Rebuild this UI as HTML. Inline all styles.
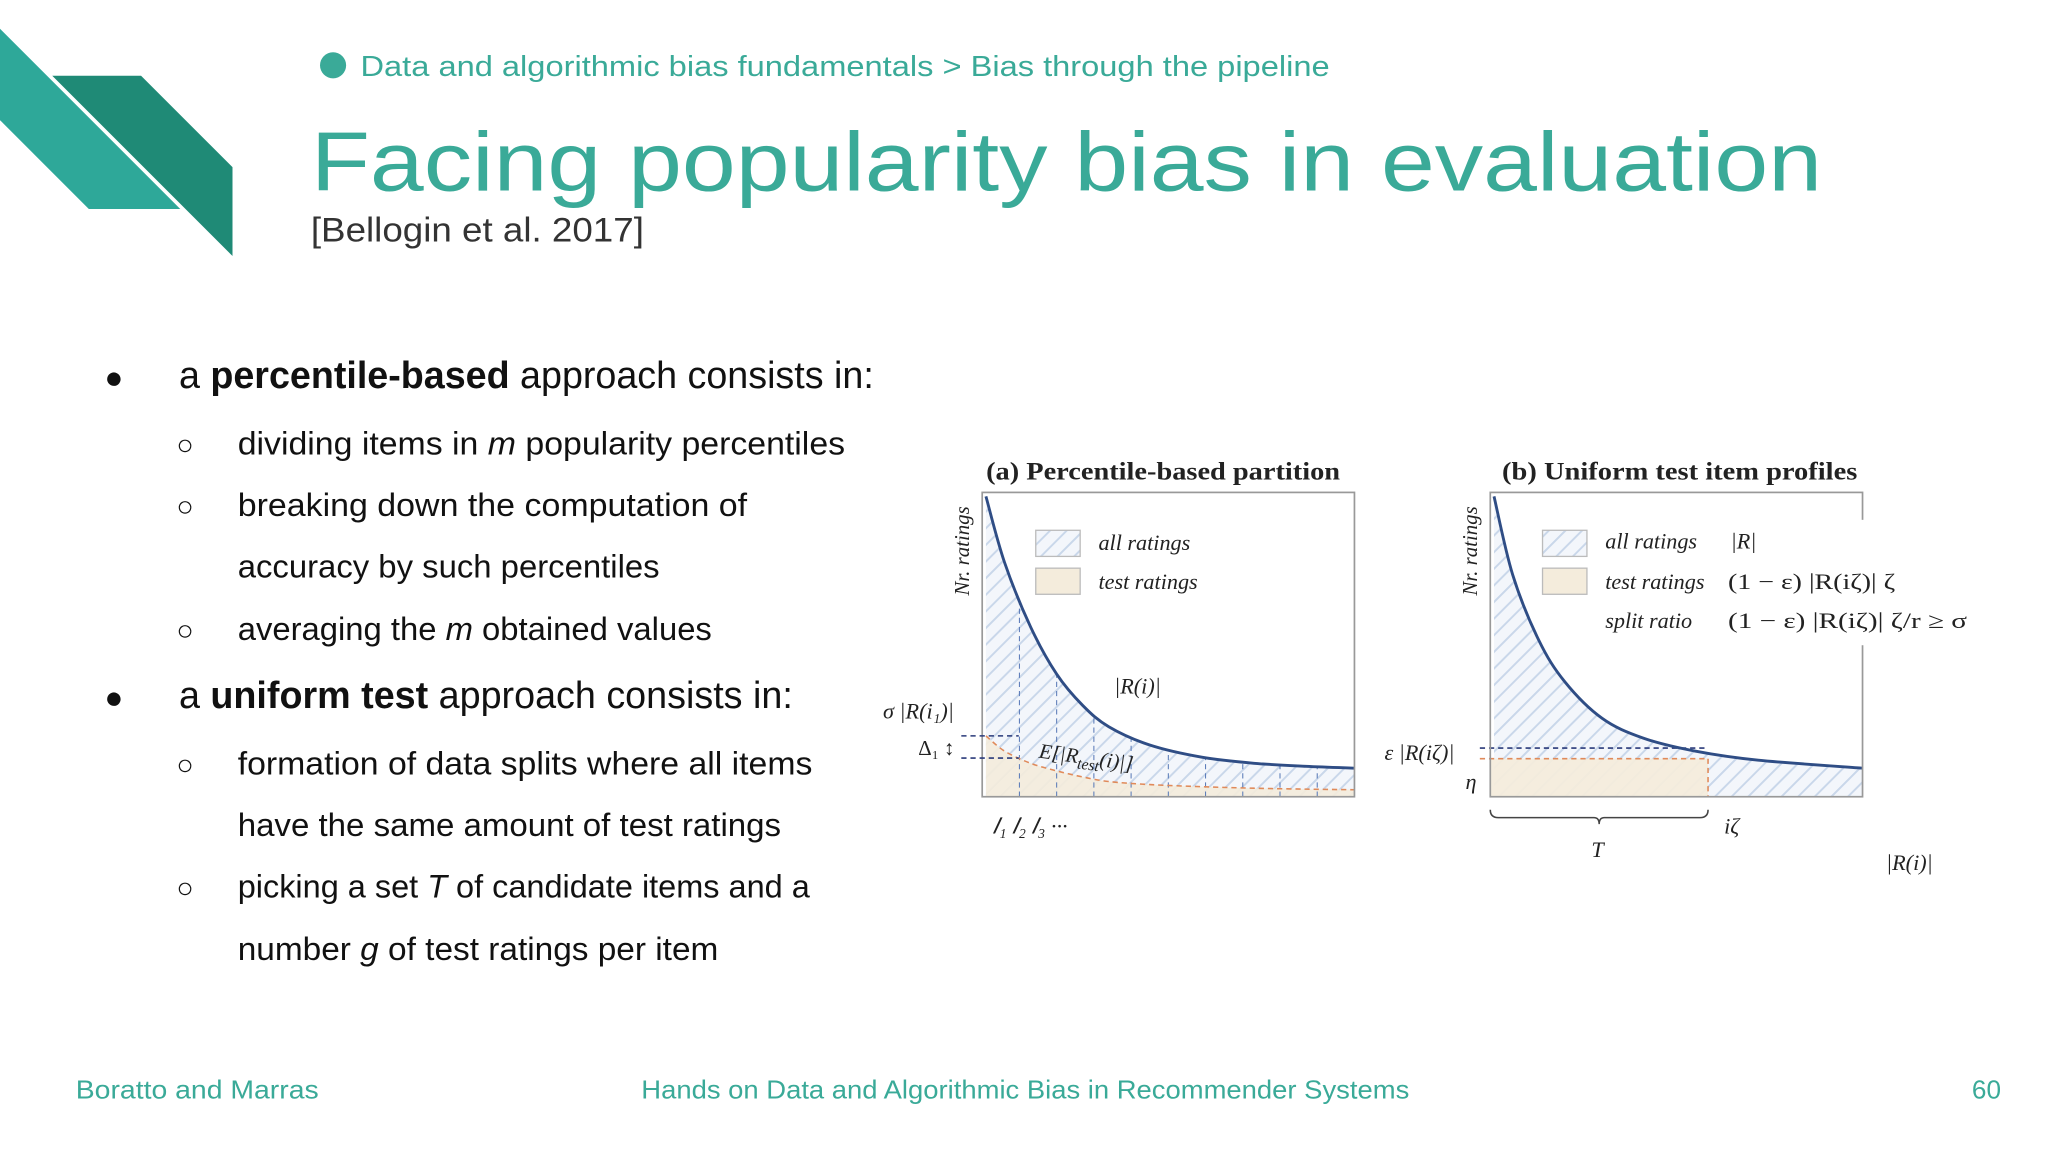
<!DOCTYPE html>
<html><head><meta charset="utf-8"><style>
html,body{margin:0;padding:0;background:#fff;}
svg{display:block;}
.sans{font-family:"Liberation Sans",sans-serif;}
.serif{font-family:"Liberation Serif",serif;}
</style></head><body>
<svg width="2048" height="1152" viewBox="0 0 1568 882" xmlns="http://www.w3.org/2000/svg">
<defs>
<pattern id="hatch" patternUnits="userSpaceOnUse" width="9" height="9" patternTransform="rotate(45)">
<rect width="9" height="9" fill="#f3f6fb"/>
<line x1="0" y1="0" x2="0" y2="9" stroke="#c9d7ea" stroke-width="3"/>
</pattern>
</defs>
<rect width="1568" height="882" fill="#fff"/>
<polygon points="0,22 0,92 68,160 138,160" fill="#2ea899"/>
<polygon points="40,58 108,58 178,128 178,196" fill="#1f8a76"/>
<circle cx="255" cy="50" r="10" fill="#3aaa98"/>
<text class="sans" x="276" y="58" font-size="22" fill="#3aaa98" textLength="742" lengthAdjust="spacingAndGlyphs">Data and algorithmic bias fundamentals &gt; Bias through the pipeline</text>
<text class="sans" x="238" y="146" font-size="64" fill="#3aaa98" textLength="1157" lengthAdjust="spacingAndGlyphs">Facing popularity bias in evaluation</text>
<text class="sans" x="238" y="185" font-size="26" fill="#333" textLength="255" lengthAdjust="spacingAndGlyphs">[Bellogin et al. 2017]</text>

<g class="sans" fill="#111">
<text x="80" y="297" font-size="24">●</text>
<text x="137" y="297" font-size="29" textLength="532" lengthAdjust="spacingAndGlyphs">a <tspan font-weight="bold">percentile-based</tspan> approach consists in:</text>
<text x="135" y="348" font-size="22">○</text><text x="182" y="348" font-size="25" textLength="465" lengthAdjust="spacingAndGlyphs">dividing items in <tspan font-style="italic">m</tspan> popularity percentiles</text>
<text x="135" y="395" font-size="22">○</text><text x="182" y="395" font-size="25" textLength="390" lengthAdjust="spacingAndGlyphs">breaking down the computation of</text>
<text x="182" y="442" font-size="25" textLength="323" lengthAdjust="spacingAndGlyphs">accuracy by such percentiles</text>
<text x="135" y="490" font-size="22">○</text><text x="182" y="490" font-size="25" textLength="363" lengthAdjust="spacingAndGlyphs">averaging the <tspan font-style="italic">m</tspan> obtained values</text>
<text x="80" y="542" font-size="24">●</text>
<text x="137" y="542" font-size="29" textLength="470" lengthAdjust="spacingAndGlyphs">a <tspan font-weight="bold">uniform test</tspan> approach consists in:</text>
<text x="135" y="593" font-size="22">○</text><text x="182" y="593" font-size="25" textLength="440" lengthAdjust="spacingAndGlyphs">formation of data splits where all items</text>
<text x="182" y="640" font-size="25" textLength="416" lengthAdjust="spacingAndGlyphs">have the same amount of test ratings</text>
<text x="135" y="687" font-size="22">○</text><text x="182" y="687" font-size="25" textLength="438" lengthAdjust="spacingAndGlyphs">picking a set <tspan font-style="italic">T</tspan> of candidate items and a</text>
<text x="182" y="735" font-size="25" textLength="368" lengthAdjust="spacingAndGlyphs">number <tspan font-style="italic">g</tspan> of test ratings per item</text>
</g>

<text class="sans" x="58" y="841" font-size="20" fill="#3aaa98" textLength="186" lengthAdjust="spacingAndGlyphs">Boratto and Marras</text>
<text class="sans" x="491" y="841" font-size="20" fill="#3aaa98" textLength="588" lengthAdjust="spacingAndGlyphs">Hands on Data and Algorithmic Bias in Recommender Systems</text>
<text class="sans" x="1532" y="841" font-size="20" fill="#3aaa98" text-anchor="end">60</text>

<g id="chart" class="serif"></g>
</svg>
<script>
// item rank (0-100) and rating counts (0-100 scale of panel height)
const itemsA = [1, 6, 13, 20, 27, 34, 45, 59, 73, 87, 100];
const allA = [98.7, 77, 55.8, 40.3, 30, 23, 17, 13, 11, 10, 9.4];
const testItemsA = [1, 6, 13, 20, 27, 34, 45, 59, 73, 87, 100];
const testA = [20, 15, 11, 8.5, 6.5, 5, 4, 3.3, 2.8, 2.5, 2.3];
const percentiles = [10, 20, 30, 40, 50, 60, 70, 80, 90];
const itemsB = [1, 6, 13, 20, 30, 41, 55, 72, 100];
const allB = [98.7, 73, 51.5, 37.8, 25.8, 19.3, 15, 12, 9.4];
const zetaItem = 58.5;
const epsVal = 16;
const etaVal = 12.5;

const NS = "http://www.w3.org/2000/svg";
const root = document.getElementById('chart');
function mk(tag, attrs, parent) {
  const e = document.createElementNS(NS, tag);
  for (const k in attrs) e.setAttribute(k, attrs[k]);
  (parent || root).appendChild(e);
  return e;
}
function txt(x, y, s, size, extra) {
  const e = mk('text', Object.assign({x: x, y: y, 'font-size': size, fill: '#222'}, extra || {}));
  e.textContent = s;
  return e;
}
function panel(x0) {
  const y0 = 377, w = 285, h = 233;
  return {x: v => x0 + v / 100 * w, y: v => y0 + h - v / 100 * h, x0: x0, y0: y0, w: w, h: h};
}
function smooth(xs, ys, P) {
  const pts = xs.map((v, i) => [P.x(v), P.y(ys[i])]);
  let d = 'M' + pts[0][0] + ',' + pts[0][1];
  for (let i = 0; i < pts.length - 1; i++) {
    const p0 = pts[i - 1] || pts[i], p1 = pts[i], p2 = pts[i + 1], p3 = pts[i + 2] || p2;
    const c1 = [p1[0] + (p2[0] - p0[0]) / 6, p1[1] + (p2[1] - p0[1]) / 6];
    const c2 = [p2[0] - (p3[0] - p1[0]) / 6, p2[1] - (p3[1] - p1[1]) / 6];
    d += ' C' + c1.join(',') + ' ' + c2.join(',') + ' ' + p2.join(',');
  }
  return d;
}
function interp(xs, ys, v) {
  for (let i = 0; i < xs.length - 1; i++) if (v >= xs[i] && v <= xs[i + 1]) return ys[i] + (ys[i + 1] - ys[i]) * (v - xs[i]) / (xs[i + 1] - xs[i]);
  return ys[ys.length - 1];
}

// ---------- Panel A ----------
const A = panel(752);
let e;
e = mk('path', {d: smooth(itemsA, allA, A) + ` L${A.x(100)},${A.y(0)} L${A.x(1)},${A.y(0)} Z`, fill: 'url(#hatch)'});


e = mk('path', {d: smooth(testItemsA, testA, A) + ` L${A.x(100)},${A.y(0)} L${A.x(1)},${A.y(0)} Z`, fill: '#f4ecdc', opacity: 0.9});


percentiles.forEach(p => {
  const l = mk('line', {x1: A.x(p), x2: A.x(p), y1: A.y(0), y2: A.y(interp(itemsA, allA, p)), stroke: '#5a7bb8', 'stroke-width': 0.8, 'stroke-dasharray': '4,3'});
  
  
});
e = mk('path', {d: smooth(testItemsA, testA, A), fill: 'none', stroke: '#e08a5a', 'stroke-width': 1.2, 'stroke-dasharray': '4,3'});


e = mk('path', {d: smooth(itemsA, allA, A), fill: 'none', stroke: '#2f4d85', 'stroke-width': 2.2});


e = mk('rect', {x: A.x0, y: A.y0, width: A.w, height: A.h, fill: 'none', stroke: '#999', 'stroke-width': 1.3});


e = txt(755, 367, '(a)  Percentile-based partition', 19, {'font-weight': 'bold', textLength: 271, lengthAdjust: 'spacingAndGlyphs'});


e = txt(0, 0, 'Nr. ratings', 16, {'font-style': 'italic', transform: 'translate(742,456) rotate(-90)'});


e = mk('rect', {x: 793, y: 406, width: 34, height: 20, fill: 'url(#hatch)', stroke: '#bbb'});


e = mk('rect', {x: 793, y: 435, width: 34, height: 20, fill: '#f4ecdc', stroke: '#bbb'});


e = txt(841, 421, 'all ratings', 17, {'font-style': 'italic'});


e = txt(841, 451, 'test ratings', 17, {'font-style': 'italic'});


e = txt(853, 531, '|R(i)|', 17, {'font-style': 'italic'});


e = txt(676, 550, 'σ |R(i₁)|', 17, {'font-style': 'italic'});


e = txt(703, 578, 'Δ₁ ↕', 16);


[A.y(interp(testItemsA, testA, 1)), A.y(interp(testItemsA, testA, 10))].forEach(y => {
  const l = mk('line', {x1: 736, x2: 780, y1: y, y2: y, stroke: '#2a3a7a', 'stroke-width': 1.2, 'stroke-dasharray': '4,3'});
  
  
});
e = txt(0, 0, 'E[|R', 16, {'font-style': 'italic', transform: 'translate(795,580) rotate(8)'});
e.innerHTML = 'E[|R<tspan font-size="12" dy="4">test</tspan><tspan dy="-4">(i)|]</tspan>';


e = txt(760, 638, '𝐼₁    𝐼₂    𝐼₃    ···', 17, {'font-style': 'italic'});



// ---------- Panel B ----------
const B = panel(1141);
e = mk('path', {d: smooth(itemsB, allB, B) + ` L${B.x(100)},${B.y(0)} L${B.x(1)},${B.y(0)} Z`, fill: 'url(#hatch)'});


e = mk('rect', {x: B.x(0), y: B.y(etaVal), width: B.x(zetaItem) - B.x(0), height: B.y(0) - B.y(etaVal), fill: '#f4ecdc', opacity: 0.95});


e = mk('line', {x1: 1133, x2: B.x(zetaItem), y1: B.y(epsVal), y2: B.y(epsVal), stroke: '#2a3a7a', 'stroke-width': 1.2, 'stroke-dasharray': '4,3'});


e = mk('line', {x1: 1133, x2: B.x(zetaItem), y1: B.y(etaVal), y2: B.y(etaVal), stroke: '#e08a5a', 'stroke-width': 1.2, 'stroke-dasharray': '4,3'});


e = mk('line', {x1: B.x(zetaItem), x2: B.x(zetaItem), y1: B.y(etaVal), y2: B.y(0), stroke: '#e08a5a', 'stroke-width': 1.2, 'stroke-dasharray': '4,3'});


e = mk('path', {d: smooth(itemsB, allB, B), fill: 'none', stroke: '#2f4d85', 'stroke-width': 2.2});


e = mk('rect', {x: B.x0, y: B.y0, width: B.w, height: B.h, fill: 'none', stroke: '#999', 'stroke-width': 1.3});


e = mk('rect', {x: 1318, y: 398, width: 110, height: 96, fill: '#fff'});


e = txt(1150, 367, '(b)  Uniform test item profiles', 19, {'font-weight': 'bold', textLength: 272, lengthAdjust: 'spacingAndGlyphs'});


e = txt(0, 0, 'Nr. ratings', 16, {'font-style': 'italic', transform: 'translate(1131,456) rotate(-90)'});


e = mk('rect', {x: 1181, y: 406, width: 34, height: 20, fill: 'url(#hatch)', stroke: '#bbb'});


e = mk('rect', {x: 1181, y: 435, width: 34, height: 20, fill: '#f4ecdc', stroke: '#bbb'});


e = txt(1229, 420, 'all ratings', 17, {'font-style': 'italic'});


e = txt(1325, 420, '|R|', 17, {'font-style': 'italic'});


e = txt(1229, 451, 'test ratings', 17, {'font-style': 'italic'});


e = txt(1323, 451, '(1 − ε) |R(iζ)| ζ', 17, {textLength: 128, lengthAdjust: 'spacingAndGlyphs'});


e = txt(1229, 481, 'split ratio', 17, {'font-style': 'italic'});


e = txt(1323, 481, '(1 − ε) |R(iζ)| ζ/r ≥ σ', 17, {textLength: 183, lengthAdjust: 'spacingAndGlyphs'});


e = txt(1060, 582, 'ε |R(iζ)|', 17, {'font-style': 'italic'});


e = txt(1122, 604, 'η', 17, {'font-style': 'italic'});


const bx1 = B.x(0), bx2 = B.x(zetaItem), bm = (bx1 + bx2) / 2;
e = mk('path', {d: `M${bx1},620 Q${bx1},626 ${bx1 + 6},626 L${bm - 4},626 Q${bm},626 ${bm},631 Q${bm},626 ${bm + 4},626 L${bx2 - 6},626 Q${bx2},626 ${bx2},620`, fill: 'none', stroke: '#444', 'stroke-width': 1.2});


e = txt(1320, 638, 'iζ', 17, {'font-style': 'italic'});


e = txt(bm - 6, 656, 'T', 17, {'font-style': 'italic'});


e = txt(1444, 666, '|R(i)|', 17, {'font-style': 'italic'});


</script>
</body></html>
